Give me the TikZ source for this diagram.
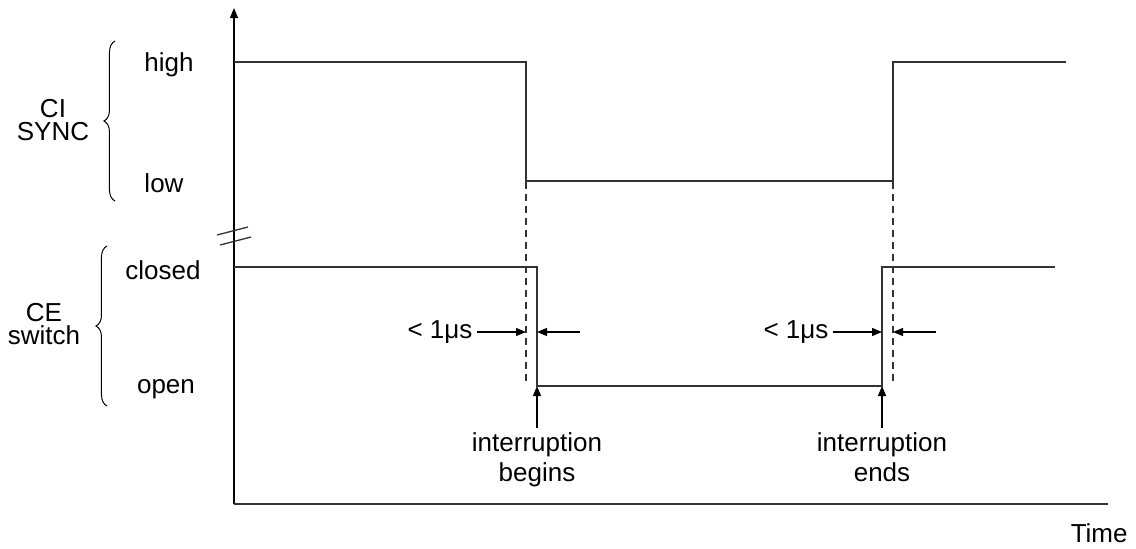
\documentclass[tikz,border=0pt]{standalone}
\usepackage{fontspec}
\setmainfont{Liberation Sans}
\usetikzlibrary{arrows.meta, positioning, calc, decorations.pathreplacing}
\definecolor{wire}{HTML}{333333}

\begin{document}
\begin{tikzpicture}[x=0.5pt, y=0.5pt,
    lbl/.style={font=\fontsize{13}{15}\selectfont, align=center, inner sep=2pt},
    tight/.style={lbl, font=\fontsize{13}{11.5}\selectfont},
    sig/.style={draw=wire, line width=0.65pt},
    guide/.style={draw=wire, line width=0.65pt, dash pattern=on 3.5pt off 2.5pt},
    arr/.style={-{Triangle[length=5pt, width=4pt]}, line width=0.6pt},
    brc/.style={decorate, decoration={brace, amplitude=5.5pt}, line width=0.5pt}
  ]
  \useasboundingbox (-234,-44) rectangle (902,504);

  % Axes
  \coordinate (o) at (0,0);
  \coordinate (top) at (0,496);
  \coordinate (tend) at (874,0);
  \draw[arr] (o) -- (top);
  \draw[sig] (o) -- (tend);
  \draw[sig] (-17,269) -- (14,277);
  \draw[sig] (-14,259) -- (17,267);
  \node[lbl, anchor=east] (time) at (898,-29) {Time};

  % CI SYNC
  \coordinate (ci1) at (292,442);
  \coordinate (ci2) at (292,323);
  \coordinate (ci3) at (659,323);
  \coordinate (ci4) at (659,442);
  \draw[sig] (0,442) -- (ci1) -- (ci2) -- (ci3) -- (ci4) -- (832,442);
  \node[lbl] (high) at (-65,439) {high};
  \node[lbl] (low) at (-70,321) {low};
  \draw[brc] (-119,303) -- (-119,463);
  \node[tight] (cisync) at (-181,384) {CI\\SYNC};

  % CE switch
  \coordinate (ce1) at (303,237);
  \coordinate (ce2) at (303,118);
  \coordinate (ce3) at (648,118);
  \coordinate (ce4) at (648,237);
  \draw[sig] (0,237) -- (ce1) -- (ce2) -- (ce3) -- (ce4) -- (821,237);
  \node[lbl] (closed) at (-71,234) {closed};
  \node[lbl] (open) at (-68,115) {open};
  \draw[brc] (-127,98) -- (-127,258);
  \node[tight] (ceswitch) at (-190,180) {CE\\switch};

  % Guides
  \coordinate (g1) at (292,123);
  \coordinate (g2) at (659,123);
  \draw[guide] (ci1) -- (g1);
  \draw[guide] (ci4) -- (g2);

  % Delays
  \node[lbl] (us1) at (206,172) {< 1μs};
  \coordinate (w1) at (346,172);
  \draw[arr] (us1.east) -- (us1.east -| g1);
  \draw[arr] (w1) -- (w1 -| ce2);
  \node[lbl] (us2) at (562,172) {< 1μs};
  \coordinate (w2) at (702,172);
  \draw[arr] (us2.east) -- (us2.east -| ce3);
  \draw[arr] (w2) -- (w2 -| g2);

  % Interruption
  \node[lbl, anchor=north] (ib) at (303,76) {interruption\\begins};
  \node[lbl, anchor=north] (ie) at (648,76) {interruption\\ends};
  \draw[arr] (ib.north) -- (ce2);
  \draw[arr] (ie.north) -- (ce3);
\end{tikzpicture}
\end{document}
